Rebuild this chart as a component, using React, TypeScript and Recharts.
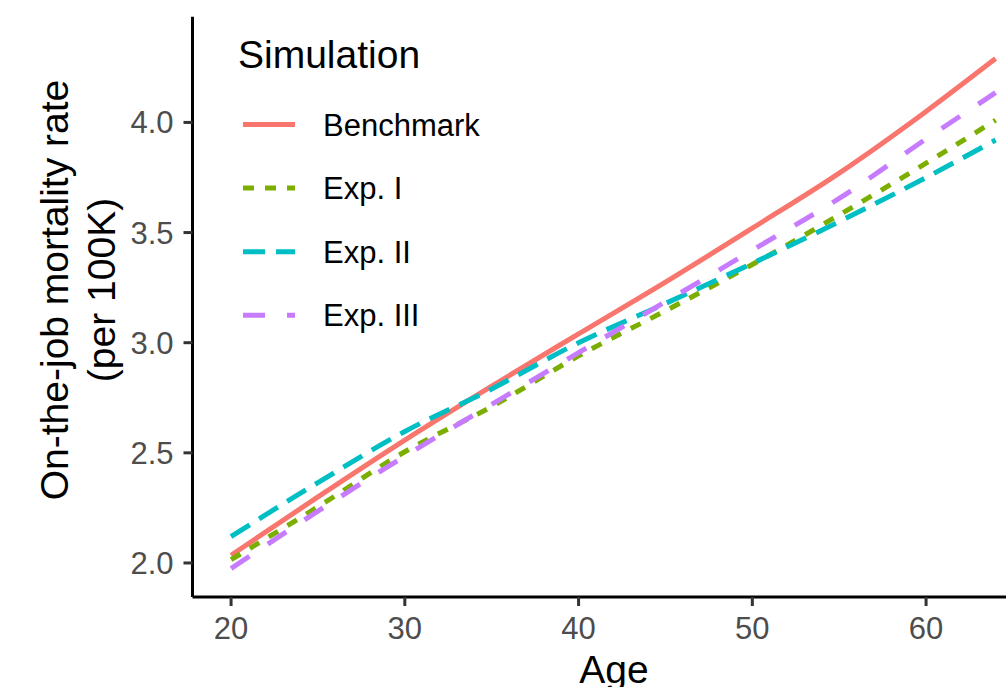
import { LineChart, Line, XAxis, YAxis, Legend } from 'recharts';

const ages = [20, 25, 30, 35, 40, 45, 50, 55, 60, 64];
const benchmark = [2.035, 2.3, 2.558, 2.803, 3.04, 3.275, 3.52, 3.77, 4.05, 4.29];
const expI = [2.015, 2.255, 2.505, 2.71, 2.94, 3.145, 3.355, 3.58, 3.815, 4.01];
const expII = [2.12, 2.365, 2.597, 2.79, 3.0, 3.178, 3.36, 3.55, 3.75, 3.92];
const expIII = [1.975, 2.235, 2.485, 2.72, 2.955, 3.186, 3.42, 3.655, 3.925, 4.135];

const xTicks = [20, 30, 40, 50, 60];
const yTicks = [2.0, 2.5, 3.0, 3.5, 4.0];

const seriesKeys = ['bench', 'exp1', 'exp2', 'exp3'];
const seriesNames = ['Benchmark', 'Exp. I', 'Exp. II', 'Exp. III'];
const seriesColors = ['#F8766D', '#7CAE00', '#00BFC4', '#C77CFF'];
const seriesDashes = [undefined, '11 11', '22 11', '22 22'];

const data = ages.map((age, i) => ({
  age,
  bench: benchmark[i],
  exp1: expI[i],
  exp2: expII[i],
  exp3: expIII[i],
}));

const FONT = '"Liberation Sans", Arial, Helvetica, sans-serif';
const LW = 5;

function SimLegend() {
  return (
    <svg width={520} height={360} style={{ display: 'block', fontFamily: FONT }}>
      <text x={238} y={68} fontSize={39} fill="#000">Simulation</text>
      {seriesNames.map((name, i) => {
        const y = 124.5 + i * 63.6;
        return (
          <g key={name}>
            <line x1={243} x2={295} y1={y} y2={y} stroke={seriesColors[i]} strokeWidth={LW} strokeDasharray={seriesDashes[i]} />
            <text x={323} y={y + 11} fontSize={31} fill="#000">{name}</text>
          </g>
        );
      })}
    </svg>
  );
}

export default function App() {
  return (
    <div style={{ position: 'absolute', left: 0, top: 0, background: '#fff', fontFamily: FONT }}>
      <LineChart width={1006} height={687} data={data} margin={{ top: 16.7, right: 0, bottom: 0, left: 0 }}>
        <XAxis
          type="number"
          dataKey="age"
          domain={[17.78, 64.6]}
          allowDataOverflow
          ticks={xTicks}
          height={90}
          axisLine={{ stroke: '#000', strokeWidth: 3 }}
          tickLine={{ stroke: '#333', strokeWidth: 3 }}
          tickSize={9}
          tickMargin={11}
          tick={{ fill: '#4D4D4D', fontSize: 31, fontFamily: FONT }}
          label={{
            content: () => (
              <text x={614} y={683} textAnchor="middle" fontSize={39} fill="#000" fontFamily={FONT}>Age</text>
            ),
          }}
        />
        <YAxis
          type="number"
          domain={[1.8455, 4.48]}
          allowDataOverflow
          ticks={yTicks}
          width={192.5}
          tickFormatter={(v: number) => v.toFixed(1)}
          axisLine={{ stroke: '#000', strokeWidth: 3 }}
          tickLine={{ stroke: '#333', strokeWidth: 3 }}
          tickSize={9}
          tickMargin={10}
          tick={{ fill: '#4D4D4D', fontSize: 31, fontFamily: FONT }}
          label={{
            content: () => (
              <g fontFamily={FONT} fontSize={39} fill="#000">
                <text transform="translate(68, 290) rotate(-90)" textAnchor="middle">On-the-job mortality rate</text>
                <text transform="translate(115, 290) rotate(-90)" textAnchor="middle">(per 100K)</text>
              </g>
            ),
          }}
        />
        <Legend
          layout="vertical"
          align="center"
          verticalAlign="middle"
          wrapperStyle={{ left: 0, top: 0, width: 520, height: 360 }}
          content={() => <SimLegend />}
        />
        {seriesKeys.map((key, i) => (
          <Line
            key={key}
            type="monotone"
            dataKey={key}
            name={seriesNames[i]}
            stroke={seriesColors[i]}
            strokeWidth={LW}
            strokeDasharray={seriesDashes[i]}
            dot={false}
            activeDot={false}
            isAnimationActive={false}
          />
        ))}
      </LineChart>
    </div>
  );
}
